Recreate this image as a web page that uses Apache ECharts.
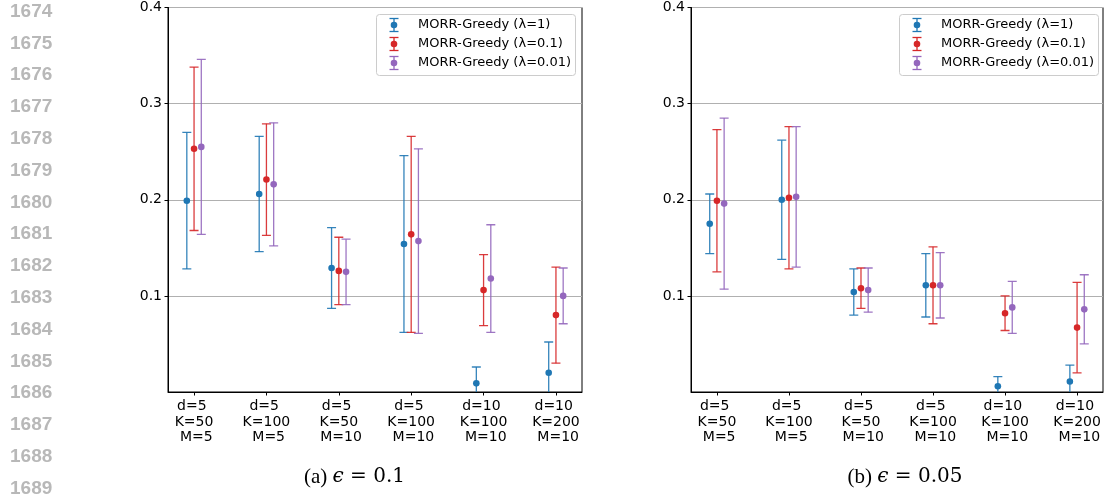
<!DOCTYPE html>
<html>
<head>
<meta charset="utf-8">
<script src="https://cdn.jsdelivr.net/npm/echarts@6/dist/echarts.min.js"></script>
<style>
  html, body { margin: 0; padding: 0; background: #fff; }
  #chart { width: 1105px; height: 495px; }
</style>
</head>
<body>
<div id="chart"></div>
<script>
// Configurations on the x axis (d, K, M)
const xLabels = [
  'd=5 \nK=50\n M=5',
  'd=5 \nK=100\n M=5',
  'd=5 \nK=50\n M=10',
  'd=5 \nK=100\n M=10',
  'd=10 \nK=100\n M=10',
  'd=10 \nK=200\n M=10'
];
const seriesNames = ['MORR-Greedy (λ=1)', 'MORR-Greedy (λ=0.1)', 'MORR-Greedy (λ=0.01)'];
const yTicks = [0.1, 0.2, 0.3, 0.4];

// (a) epsilon = 0.1 : means and half-widths of the error bars
const meanA_l1   = [0.199, 0.206, 0.129, 0.154, 0.009, 0.020];
const errA_l1    = [0.071, 0.060, 0.042, 0.092, 0.017, 0.032];
const meanA_l01  = [0.253, 0.221, 0.126, 0.164, 0.106, 0.080];
const errA_l01   = [0.085, 0.058, 0.035, 0.102, 0.037, 0.050];
const meanA_l001 = [0.255, 0.216, 0.125, 0.157, 0.118, 0.100];
const errA_l001  = [0.091, 0.064, 0.034, 0.096, 0.056, 0.029];

// (b) epsilon = 0.05
const meanB_l1   = [0.175, 0.200, 0.104, 0.111, 0.006, 0.011];
const errB_l1    = [0.031, 0.062, 0.024, 0.033, 0.010, 0.017];
const meanB_l01  = [0.199, 0.202, 0.108, 0.111, 0.082, 0.067];
const errB_l01   = [0.074, 0.074, 0.021, 0.040, 0.018, 0.047];
const meanB_l001 = [0.196, 0.203, 0.106, 0.111, 0.088, 0.086];
const errB_l001  = [0.089, 0.073, 0.023, 0.034, 0.027, 0.036];

const captions = ['(a)', '(b)'];
const epsValues = ['0.1', '0.05'];
const lineNumbers = [1674, 1675, 1676, 1677, 1678, 1679, 1680, 1681, 1682, 1683, 1684, 1685, 1686, 1687, 1688, 1689];

const colors = ['#1f77b4', '#d62728', '#9467bd'];
const offsets = [-0.1, 0, 0.1];
const panels = [
  { left: 168, right: 1105 - 582, means: [meanA_l1, meanA_l01, meanA_l001], errs: [errA_l1, errA_l01, errA_l001] },
  { left: 691, right: 1105 - 1103, means: [meanB_l1, meanB_l01, meanB_l001], errs: [errB_l1, errB_l01, errB_l001] }
];
const GRID_TOP = 7.5, GRID_BOTTOM = 103;
const tickFont = 'DejaVu Sans';

function renderErrorBar(params, api) {
  const x = api.value(0), m = api.value(1), e = api.value(2);
  const pm = api.coord([x, m]);
  const pt = api.coord([x, m + e]);
  const pb = api.coord([x, m - e]);
  const cs = params.coordSys;
  const yBottom = cs.y + cs.height;
  const color = api.visual('color');
  const lw = 1.3, cap = 4.5;
  const st = { stroke: color, lineWidth: lw, opacity: 0.9 };
  const children = [
    { type: 'line', shape: { x1: pm[0], y1: pt[1], x2: pm[0], y2: Math.min(pb[1], yBottom) }, style: st },
    { type: 'line', shape: { x1: pm[0] - cap, y1: pt[1], x2: pm[0] + cap, y2: pt[1] }, style: st }
  ];
  if (pb[1] <= yBottom) {
    children.push({ type: 'line', shape: { x1: pm[0] - cap, y1: pb[1], x2: pm[0] + cap, y2: pb[1] }, style: st });
  }
  children.push({ type: 'circle', shape: { cx: pm[0], cy: pm[1], r: 3.3 }, style: { fill: color } });
  return { type: 'group', children: children };
}

const grid = [], xAxis = [], yAxis = [], series = [];
panels.forEach((p, pi) => {
  grid.push({
    left: p.left, right: p.right, top: GRID_TOP, bottom: GRID_BOTTOM,
    show: true, borderColor: '#000', borderWidth: 1, backgroundColor: 'transparent',
    containLabel: false, outerBoundsMode: 'none'
  });
  xAxis.push({
    type: 'value', gridIndex: pi, min: -0.36, max: 5.36,
    axisLine: { show: true, onZero: false, lineStyle: { color: '#000', width: 1 } },
    axisTick: { show: true, customValues: [0, 1, 2, 3, 4, 5], length: 3.5, lineStyle: { color: '#000', width: 1 } },
    axisLabel: {
      customValues: [0, 1, 2, 3, 4, 5], margin: 7,
      formatter: v => xLabels[Math.round(v)],
      fontFamily: tickFont, fontSize: 14, color: '#000', lineHeight: 15.5, align: 'center'
    },
    splitLine: { show: false }
  });
  yAxis.push({
    type: 'value', gridIndex: pi, min: 0, max: 0.4, interval: 0.1,
    axisLine: { show: true, onZero: false, lineStyle: { color: '#000', width: 1 } },
    axisTick: { show: true, length: 3.5, lineStyle: { color: '#000', width: 1 },
      customValues: yTicks },
    axisLabel: {
      customValues: yTicks, margin: 6, showMaxLabel: true,
      formatter: v => (v === 0 ? '' : v.toFixed(1)),
      fontFamily: tickFont, fontSize: 14, color: '#000'
    },
    splitLine: { show: true, lineStyle: { color: '#b0b0b0', width: 1 } }
  });
  seriesNames.forEach((name, si) => {
    series.push({
      type: 'custom', name: name, xAxisIndex: pi, yAxisIndex: pi,
      clip: true, silent: true,
      itemStyle: { color: colors[si] },
      renderItem: renderErrorBar,
      encode: { x: 0, y: 1 },
      data: p.means[si].map((m, i) => [i + offsets[si], m, p.errs[si][i]])
    });
  });
});

// Legend boxes, drawn in each panel's upper right corner
const graphic = [];
[{ x: 376, iconX: 394, textX: 418 }, { x: 899, iconX: 917, textX: 941 }].forEach(lg => {
  const children = [{
    type: 'rect', shape: { x: lg.x + 0.5, y: 14.5, width: 199, height: 61, r: 3 },
    style: { fill: '#ffffff', stroke: '#cccccc', lineWidth: 1 }
  }];
  seriesNames.forEach((name, si) => {
    const cy = 25 + si * 19;
    const c = colors[si];
    children.push(
      { type: 'line', shape: { x1: lg.iconX, y1: cy - 6.5, x2: lg.iconX, y2: cy + 6.5 }, style: { stroke: c, lineWidth: 1.3 } },
      { type: 'line', shape: { x1: lg.iconX - 4.5, y1: cy - 6.5, x2: lg.iconX + 4.5, y2: cy - 6.5 }, style: { stroke: c, lineWidth: 1.3 } },
      { type: 'line', shape: { x1: lg.iconX - 4.5, y1: cy + 6.5, x2: lg.iconX + 4.5, y2: cy + 6.5 }, style: { stroke: c, lineWidth: 1.3 } },
      { type: 'circle', shape: { cx: lg.iconX, cy: cy, r: 3.3 }, style: { fill: c } },
      { type: 'text', x: lg.textX, y: cy, style: { text: name, font: '13px "DejaVu Sans"', fill: '#000', verticalAlign: 'middle', align: 'left' } }
    );
  });
  graphic.push({ type: 'group', z: 100, children: children });
});

// Sub-figure captions
[354.5, 905].forEach((cx, i) => {
  graphic.push({
    type: 'text', x: cx, y: 477, z: 100,
    style: {
      text: '{n|' + captions[i] + ' }{e|ϵ}{m| = ' + epsValues[i] + '}',
      align: 'center', verticalAlign: 'middle',
      rich: {
        n: { fontFamily: 'Liberation Serif', fontSize: 21, fill: '#000' },
        e: { fontFamily: 'DejaVu Serif', fontSize: 20, fontStyle: 'italic', fill: '#000' },
        m: { fontFamily: 'DejaVu Serif', fontSize: 20, fill: '#000' }
      }
    }
  });
});

// Manuscript line numbers in the left margin
lineNumbers.forEach((n, i) => {
  graphic.push({
    type: 'text', x: 10, y: 11.5 + i * 31.8, z: 100,
    style: { text: String(n), font: 'bold 19px "Liberation Sans"', fill: '#b8b8b8', verticalAlign: 'middle', align: 'left' }
  });
});

const chart = echarts.init(document.getElementById('chart'), null, { renderer: 'canvas' });
chart.setOption({
  animation: false,
  backgroundColor: '#fff',
  grid: grid,
  xAxis: xAxis,
  yAxis: yAxis,
  series: series,
  graphic: graphic
});
</script>
</body>
</html>
